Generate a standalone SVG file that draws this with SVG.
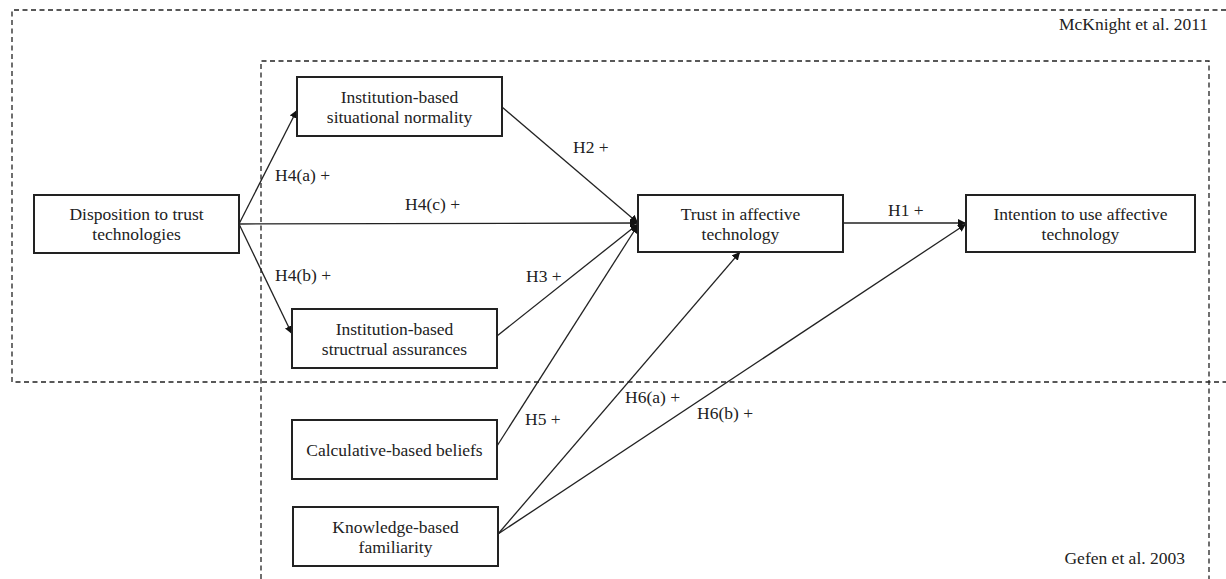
<svg xmlns="http://www.w3.org/2000/svg" width="1226" height="579" viewBox="0 0 1226 579">
<defs>
<style>
.box{fill:#fff;stroke:#222;stroke-width:2}
.dash{fill:none;stroke:#222;stroke-width:1.3;stroke-dasharray:5,3.5}
.t{font-family:"Liberation Serif",serif;font-size:17.5px;fill:#222;text-anchor:middle}
.l{font-family:"Liberation Serif",serif;font-size:17.5px;fill:#222}
.c{stroke:#222;stroke-width:1.3;fill:none;marker-end:url(#ah)}
</style>
<marker id="ah" viewBox="0 0 10 10" refX="10" refY="5" markerWidth="8" markerHeight="8" markerUnits="userSpaceOnUse" orient="auto">
<path d="M0,0 L10,5 L0,10 z" fill="#111"/>
</marker>
</defs>
<rect width="1226" height="579" fill="#fff"/>
<g id="frames">
<path class="dash" d="M1226,10 H12 V382 H1226"/>
<path class="dash" d="M261,579 V61 H1209 V579"/>
<text class="l" x="1208" y="30" text-anchor="end">McKnight et al. 2011</text>
<text class="l" x="1185" y="564" text-anchor="end">Gefen et al. 2003</text>
</g>
<g id="connectors">
<line class="c" x1="239" y1="224" x2="297" y2="110"/>
<line class="c" x1="239" y1="224" x2="292" y2="334"/>
<line class="c" x1="239" y1="224" x2="638" y2="223"/>
<line class="c" x1="502" y1="107" x2="638" y2="223"/>
<line class="c" x1="497" y1="336" x2="638" y2="224"/>
<line class="c" x1="497" y1="446" x2="638" y2="225"/>
<line class="c" x1="498" y1="534" x2="740" y2="252"/>
<line class="c" x1="498" y1="534" x2="966" y2="224"/>
<line class="c" x1="843" y1="223" x2="966" y2="223"/>
<text class="l" x="275" y="181">H4(a) +</text>
<text class="l" x="405" y="210">H4(c) +</text>
<text class="l" x="275" y="281">H4(b) +</text>
<text class="l" x="573" y="153">H2 +</text>
<text class="l" x="526" y="282">H3 +</text>
<text class="l" x="525" y="425">H5 +</text>
<text class="l" x="625" y="403">H6(a) +</text>
<text class="l" x="697" y="419">H6(b) +</text>
<text class="l" x="888" y="216">H1 +</text>
</g>
<g id="n-disposition">
<rect class="box" x="34" y="195" width="205" height="58"/>
<text class="t" x="136.5" y="220">Disposition to trust</text>
<text class="t" x="136.5" y="240">technologies</text>
</g>
<g id="n-normality">
<rect class="box" x="297" y="77" width="205" height="59"/>
<text class="t" x="399.5" y="103">Institution-based</text>
<text class="t" x="399.5" y="123">situational normality</text>
</g>
<g id="n-trust">
<rect class="box" x="638" y="195" width="205" height="57"/>
<text class="t" x="740.5" y="220">Trust in affective</text>
<text class="t" x="740.5" y="240">technology</text>
</g>
<g id="n-intention">
<rect class="box" x="966" y="195" width="229" height="57"/>
<text class="t" x="1080.5" y="220">Intention to use affective</text>
<text class="t" x="1080.5" y="240">technology</text>
</g>
<g id="n-assurances">
<rect class="box" x="292" y="309" width="205" height="59"/>
<text class="t" x="394.5" y="335">Institution-based</text>
<text class="t" x="394.5" y="355">structrual assurances</text>
</g>
<g id="n-calculative">
<rect class="box" x="292" y="420" width="205" height="59"/>
<text class="t" x="394.5" y="456">Calculative-based beliefs</text>
</g>
<g id="n-knowledge">
<rect class="box" x="293" y="507" width="205" height="59"/>
<text class="t" x="395.5" y="533">Knowledge-based</text>
<text class="t" x="395.5" y="553">familiarity</text>
</g>
</svg>
